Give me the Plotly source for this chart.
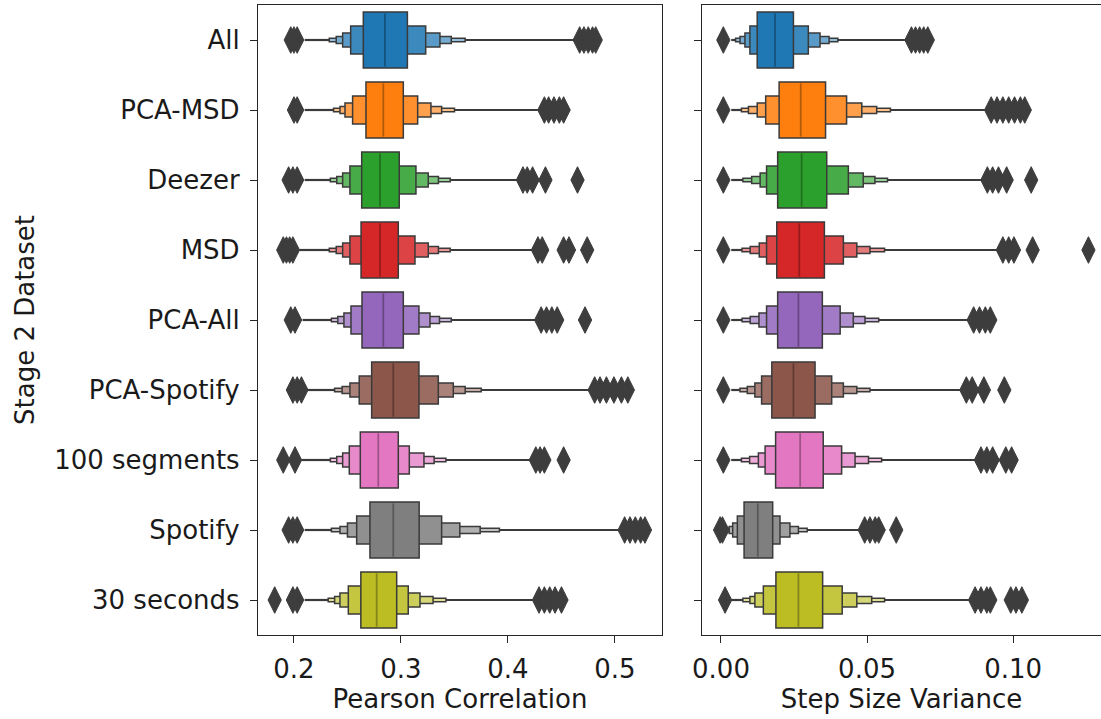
import plotly.graph_objects as go

categories = ["All", "PCA-MSD", "Deezer", "MSD", "PCA-All", "PCA-Spotify",
              "100 segments", "Spotify", "30 seconds"]
colors = ["#1f77b4", "#ff7f0e", "#2ca02c", "#d62728", "#9467bd", "#8c564b",
          "#e377c2", "#7f7f7f", "#bcbd22"]

# ---- Pearson Correlation: letter values (level 1 = IQR box, outward) ----
pearson_lower = [
    [0.2648, 0.2530, 0.2455, 0.2395, 0.2330],
    [0.2673, 0.2548, 0.2477, 0.2430, 0.2370],
    [0.2633, 0.2523, 0.2455, 0.2400, 0.2340],
    [0.2627, 0.2523, 0.2455, 0.2395, 0.2330],
    [0.2636, 0.2533, 0.2467, 0.2410, 0.2350],
    [0.2726, 0.2610, 0.2523, 0.2450, 0.2380],
    [0.2620, 0.2517, 0.2455, 0.2400, 0.2340],
    [0.2710, 0.2586, 0.2500, 0.2430, 0.2350],
    [0.2625, 0.2508, 0.2430, 0.2380, 0.2320],
]
pearson_upper = [
    [0.3060, 0.3231, 0.3364, 0.3470, 0.3600],
    [0.3022, 0.3156, 0.3280, 0.3380, 0.3500],
    [0.2984, 0.3140, 0.3255, 0.3350, 0.3460],
    [0.2975, 0.3131, 0.3255, 0.3350, 0.3460],
    [0.3022, 0.3168, 0.3271, 0.3360, 0.3470],
    [0.3168, 0.3349, 0.3489, 0.3600, 0.3750],
    [0.2975, 0.3078, 0.3215, 0.3310, 0.3420],
    [0.3170, 0.3380, 0.3550, 0.3740, 0.3920],
    [0.2960, 0.3068, 0.3178, 0.3300, 0.3420],
]
pearson_tails = [
    [0.210, 0.462], [0.210, 0.432], [0.210, 0.412], [0.205, 0.426],
    [0.208, 0.430], [0.212, 0.479], [0.207, 0.424], [0.210, 0.507],
    [0.210, 0.426],
]
pearson_median = [0.2850, 0.2835, 0.2804, 0.2804, 0.2835, 0.2928, 0.2788, 0.2928, 0.2773]
pearson_out_lo = [
    [0.197, 0.200, 0.203], [0.200, 0.203], [0.195, 0.199, 0.203],
    [0.190, 0.193, 0.196, 0.199], [0.197, 0.201], [0.199, 0.203, 0.207],
    [0.190, 0.201], [0.195, 0.199, 0.203], [0.182, 0.199, 0.203],
]
pearson_out_hi = [
    [0.467, 0.471, 0.475, 0.479, 0.482],
    [0.434, 0.438, 0.443, 0.448, 0.452],
    [0.414, 0.418, 0.423, 0.435, 0.465],
    [0.428, 0.432, 0.452, 0.457, 0.474],
    [0.431, 0.436, 0.441, 0.446, 0.472],
    [0.481, 0.486, 0.492, 0.499, 0.506, 0.512],
    [0.426, 0.430, 0.434, 0.452],
    [0.509, 0.514, 0.519, 0.524, 0.528],
    [0.429, 0.434, 0.439, 0.444, 0.450],
]

# ---- Step Size Variance: letter values ----
variance_lower = [
    [0.0124, 0.0099, 0.0082, 0.0065, 0.0050],
    [0.0199, 0.0153, 0.0124, 0.0094, 0.0070],
    [0.0194, 0.0156, 0.0134, 0.0105, 0.0075],
    [0.0191, 0.0156, 0.0131, 0.0100, 0.0072],
    [0.0194, 0.0156, 0.0130, 0.0100, 0.0072],
    [0.0174, 0.0139, 0.0116, 0.0090, 0.0065],
    [0.0187, 0.0151, 0.0128, 0.0098, 0.0070],
    [0.0079, 0.0056, 0.0040, 0.0028, 0.0018],
    [0.0188, 0.0145, 0.0116, 0.0099, 0.0075],
]
variance_upper = [
    [0.0248, 0.0299, 0.0339, 0.0370, 0.0400],
    [0.0358, 0.0430, 0.0482, 0.0533, 0.0580],
    [0.0362, 0.0436, 0.0487, 0.0527, 0.0570],
    [0.0354, 0.0419, 0.0465, 0.0510, 0.0560],
    [0.0347, 0.0408, 0.0453, 0.0493, 0.0540],
    [0.0322, 0.0379, 0.0419, 0.0465, 0.0510],
    [0.0350, 0.0413, 0.0459, 0.0505, 0.0550],
    [0.0177, 0.0202, 0.0236, 0.0265, 0.0295],
    [0.0348, 0.0415, 0.0465, 0.0516, 0.0560],
]
variance_tails = [
    [0.0035, 0.0640], [0.0035, 0.0910], [0.0035, 0.0900], [0.0035, 0.0950],
    [0.0035, 0.0850], [0.0035, 0.0830], [0.0035, 0.0880], [0.0015, 0.0480],
    [0.0035, 0.0865],
]
variance_median = [0.0185, 0.0273, 0.0276, 0.0268, 0.0265, 0.0248, 0.0271, 0.0126, 0.0265]
variance_out_lo = [
    [0.0008], [0.0008], [0.0008], [0.0008], [0.0008], [0.0008], [0.0008],
    [-0.0003, 0.0005], [0.0014],
]
variance_out_hi = [
    [0.0652, 0.0666, 0.0680, 0.0694, 0.0708],
    [0.0925, 0.0945, 0.0965, 0.0985, 0.1005, 0.1025, 0.1040],
    [0.0912, 0.0930, 0.0950, 0.0978, 0.1062],
    [0.0965, 0.0985, 0.1003, 0.1067, 0.1258],
    [0.0865, 0.0885, 0.0905, 0.0922],
    [0.0840, 0.0860, 0.0900, 0.0970],
    [0.0890, 0.0910, 0.0930, 0.0975, 0.0995],
    [0.0492, 0.0510, 0.0528, 0.0540, 0.0600],
    [0.0870, 0.0890, 0.0910, 0.0922, 0.0992, 0.1010, 0.1030],
]

EDGE = "#3a3a3a"
OUTLIER = "#3d3d3d"
BOX_WIDTH = 0.8
FONT_SIZE = 26


def mix(hex_color, target, f):
    h = hex_color.lstrip("#")
    r, g, b = (int(h[i:i + 2], 16) for i in (0, 2, 4))
    tr, tg, tb = target
    r = round(r + (tr - r) * f)
    g = round(g + (tg - g) * f)
    b = round(b + (tb - b) * f)
    return f"rgb({r},{g},{b})"


fig = go.Figure()


def add_panel(xa, ya, lower, upper, tails, medians, out_lo, out_hi):
    n = len(categories)
    levels = len(lower[0])
    # tails beyond the outermost box
    tx, ty = [], []
    for k in range(n):
        tx += [tails[k][0], lower[k][-1], None, upper[k][-1], tails[k][1], None]
        ty += [k, k, None, k, k, None]
    fig.add_trace(go.Scatter(x=tx, y=ty, mode="lines", xaxis=xa, yaxis=ya,
                             line=dict(color=EDGE, width=2.2),
                             hoverinfo="skip", showlegend=False))
    # letter-value boxes, outermost first
    for lvl in reversed(range(levels)):
        fig.add_trace(go.Bar(
            y=list(range(n)),
            x=[upper[k][lvl] - lower[k][lvl] for k in range(n)],
            base=[lower[k][lvl] for k in range(n)],
            orientation="h",
            width=BOX_WIDTH * 0.5 ** lvl,
            marker=dict(color=[mix(colors[k], (255, 255, 255), 0.13 * lvl) for k in range(n)],
                        line=dict(color=EDGE, width=1.5)),
            xaxis=xa, yaxis=ya, showlegend=False, hoverinfo="skip"))
    # medians
    for k in range(n):
        fig.add_trace(go.Scatter(
            x=[medians[k], medians[k]],
            y=[k - BOX_WIDTH / 2 + 0.02, k + BOX_WIDTH / 2 - 0.02],
            mode="lines", xaxis=xa, yaxis=ya,
            line=dict(color=mix(colors[k], (0, 0, 0), 0.3), width=1.8),
            hoverinfo="skip", showlegend=False))
    # outliers
    ox, oy = [], []
    for k in range(n):
        for v in out_lo[k] + out_hi[k]:
            ox.append(v)
            oy.append(k)
    fig.add_trace(go.Scatter(x=ox, y=oy, mode="markers", xaxis=xa, yaxis=ya,
                             marker=dict(symbol="diamond-tall", size=19, color=OUTLIER,
                                         line=dict(color=OUTLIER, width=1)),
                             hoverinfo="skip", showlegend=False))


add_panel("x", "y", pearson_lower, pearson_upper, pearson_tails, pearson_median,
          pearson_out_lo, pearson_out_hi)
add_panel("x2", "y2", variance_lower, variance_upper, variance_tails, variance_median,
          variance_out_lo, variance_out_hi)

AX = "#262626"
common_x = dict(showgrid=False, zeroline=False, showline=True, mirror=True,
                linecolor=AX, linewidth=1.3, ticks="outside", ticklen=7,
                tickwidth=1.3, tickcolor=AX, ticklabelstandoff=4,
                tickfont=dict(size=FONT_SIZE))

fig.update_layout(
    width=1101, height=719,
    margin=dict(l=258, r=0, t=5, b=84),
    plot_bgcolor="white", paper_bgcolor="white",
    barmode="overlay", showlegend=False,
    font=dict(family="DejaVu Sans", size=FONT_SIZE, color="#1a1a1a"),
    xaxis=dict(domain=[0, 0.4792], range=[0.1664, 0.5439], anchor="y",
               tickvals=[0.2, 0.3, 0.4, 0.5], ticktext=["0.2", "0.3", "0.4", "0.5"],
               title=dict(text="Pearson Correlation", standoff=6,
                          font=dict(size=FONT_SIZE)), **common_x),
    xaxis2=dict(domain=[0.5267, 1.0], range=[-0.0065, 0.1301], anchor="y2",
                tickvals=[0.0, 0.05, 0.10], ticktext=["0.00", "0.05", "0.10"],
                title=dict(text="Step Size Variance", standoff=6,
                           font=dict(size=FONT_SIZE)), **common_x),
    yaxis=dict(range=[8.5, -0.5], anchor="x", tickvals=list(range(len(categories))),
               ticktext=categories, showgrid=False, zeroline=False, showline=True,
               mirror=True, linecolor=AX, linewidth=1.3, ticks="outside", ticklen=7,
               tickwidth=1.3, tickcolor=AX, ticklabelstandoff=5,
               tickfont=dict(size=FONT_SIZE),
               title=dict(text="Stage 2 Dataset", standoff=12,
                          font=dict(size=FONT_SIZE))),
    yaxis2=dict(range=[8.5, -0.5], anchor="x2", matches="y",
                tickvals=list(range(len(categories))), showticklabels=False,
                showgrid=False, zeroline=False, showline=True, mirror=False,
                linecolor=AX, linewidth=1.3, ticks="outside", ticklen=7,
                tickwidth=1.3, tickcolor=AX),
)

fig.write_html("out.html")
